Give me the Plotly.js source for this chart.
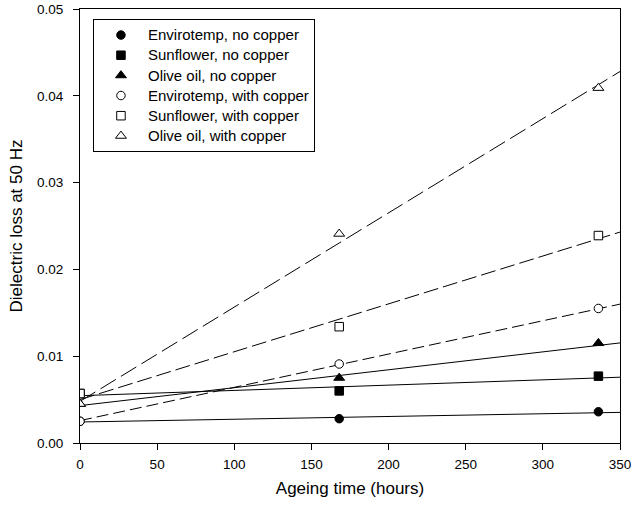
<!DOCTYPE html>
<html>
<head>
<meta charset="utf-8">
<script src="https://cdn.plot.ly/plotly-3.0.1.min.js"></script>
<style>html,body{margin:0;padding:0;background:#fff;}#chart{width:632px;height:509px;}</style>
</head>
<body>
<div id="chart"></div>
<script>
// Measured points (ageing time in hours)
const hours = [0, 168, 336];
const envNo = [0.0025, 0.0028, 0.0036];
const sunNo = [0.0057, 0.0060, 0.0077];
const oliveNo = [0.0045, 0.0075, 0.0115];
const envCu = [0.0025, 0.0091, 0.0155];
const sunCu = [0.0057, 0.0134, 0.0239];
const oliveCu = [0.0045, 0.0241, 0.0409];

// Fitted regression lines, read at x = 0 and x = 350
const fitX = [0, 350];
const fitEnvNo = [0.00242, 0.00353];
const fitSunNo = [0.00545, 0.00758];
const fitOliveNo = [0.00431, 0.01153];
const fitEnvCu = [0.00258, 0.0160];
const fitSunCu = [0.0050, 0.0243];
const fitOliveCu = [0.0048, 0.0428];

const names = [
  'Envirotemp, no copper', 'Sunflower, no copper', 'Olive oil, no copper',
  'Envirotemp, with copper', 'Sunflower, with copper', 'Olive oil, with copper'
];

const FONT = 'Liberation Sans, Arial, sans-serif';

function label(t) { return '<span style="font-size:15px">' + t + '</span>'; }

function fitLine(y, dash) {
  return {x: fitX, y: y, mode: 'lines', type: 'scatter', showlegend: false, hoverinfo: 'skip',
          line: {color: '#000', width: 1, dash: dash}};
}
function pts(y, name, symbol, filled, size) {
  return {x: hours, y: y, name: label(name), mode: 'markers', type: 'scatter',
          marker: {symbol: symbol, size: size, color: filled ? '#000' : '#fff',
                   line: {color: '#000', width: 1}}};
}

const data = [
  fitLine(fitEnvNo, 'solid'),
  fitLine(fitSunNo, 'solid'),
  fitLine(fitOliveNo, 'solid'),
  fitLine(fitEnvCu, '12px,5px'),
  fitLine(fitSunCu, '15px,5px'),
  fitLine(fitOliveCu, '18px,6px'),
  pts(envNo, names[0], 'circle', true, 8.5),
  pts(sunNo, names[1], 'square', true, 8.5),
  pts(oliveNo, names[2], 'triangle-up', true, 9.5),
  pts(envCu, names[3], 'circle', false, 8.5),
  pts(sunCu, names[4], 'square', false, 8.5),
  pts(oliveCu, names[5], 'triangle-up', false, 9.5)
];

const axisCommon = {
  showgrid: false, zeroline: false, showline: true, linecolor: '#000', linewidth: 1,
  mirror: true, ticks: 'outside', ticklen: 6, tickcolor: '#000', tickwidth: 1,
  tickfont: {family: FONT, size: 13.5, color: '#000'}
};

const layout = {
  width: 632, height: 509,
  margin: {l: 80, r: 12, t: 9, b: 66},
  paper_bgcolor: '#fff', plot_bgcolor: '#fff',
  font: {family: FONT, color: '#000'},
  xaxis: Object.assign({}, axisCommon, {
    range: [0, 350], dtick: 50, tick0: 0, ticklabelstandoff: 3,
    title: {text: 'Ageing time (hours)', font: {family: FONT, size: 17, color: '#000'}, standoff: 10}
  }),
  yaxis: Object.assign({}, axisCommon, {
    range: [0, 0.05], dtick: 0.01, tick0: 0, tickformat: '.2f', ticklabelstandoff: 7,
    title: {text: 'Dielectric loss at 50 Hz', font: {family: FONT, size: 17, color: '#000'}, standoff: 10}
  }),
  legend: {
    x: 0.024, y: 0.977, xanchor: 'left', yanchor: 'top',
    bgcolor: '#fff', bordercolor: '#000', borderwidth: 1,
    font: {family: FONT, size: 13.2, color: '#000'},
    itemwidth: 44, traceorder: 'normal'
  },
  showlegend: true
};

Plotly.newPlot('chart', data, layout, {displayModeBar: false, staticPlot: true});
</script>
</body>
</html>
